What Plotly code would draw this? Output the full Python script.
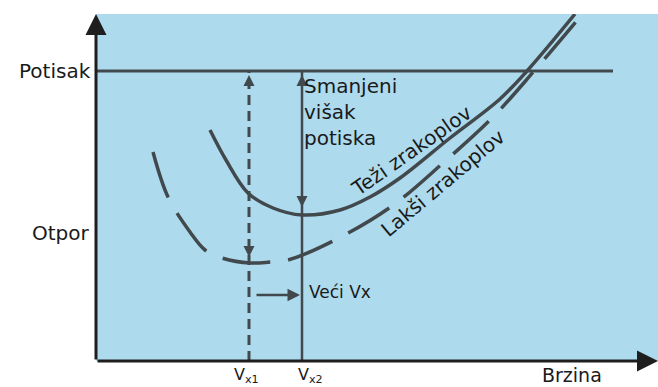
import plotly.graph_objects as go

# ---- data (x = speed units, y = force units) ----
heavy_x = [114, 130, 152, 177, 206, 244, 274, 304, 354, 404, 431, 479]
heavy_y = [231, 201, 168, 153, 146, 151, 164, 183, 223, 262, 290, 347]

light_x = [57, 72, 94, 109, 126, 154, 174, 192, 239, 296, 347, 397, 439, 484]
light_y = [209, 164, 129, 111, 103, 98, 99, 101, 121, 155, 198, 244, 291, 344]

thrust_level = 290
thrust_end_x = 517
vx1 = 153
vx2 = 206
vx1_drag = 104      # down-arrow tip on light curve
vx2_drag = 154      # down-arrow tip on heavy curve
shift_arrow_y = 66
x_max = 562
y_max = 347

label_thrust = "Potisak"
label_drag = "Otpor"
label_speed = "Brzina"
label_excess = "Smanjeni<br>višak<br>potiska"
label_heavy = "Teži zrakoplov"
label_light = "Lakši zrakoplov"
label_shift = "Veći Vx"
label_vx1 = "V<sub>x1</sub>"
label_vx2 = "V<sub>x2</sub>"

LINE = "#41494d"
AX = "#1e1e1e"
BLUE = "#aedaee"
FONT = "DejaVu Sans"

fig = go.Figure()

fig.add_trace(go.Scatter(x=heavy_x, y=heavy_y, mode="lines",
                         line=dict(color=LINE, width=3.5, shape="spline", smoothing=1.0),
                         hoverinfo="skip", showlegend=False))
fig.add_trace(go.Scatter(x=light_x, y=light_y, mode="lines",
                         line=dict(color=LINE, width=3.5, shape="spline", smoothing=1.0,
                                   dash="48px,18px"),
                         hoverinfo="skip", showlegend=False))

# thrust line
fig.add_shape(type="line", x0=0, x1=thrust_end_x, y0=thrust_level, y1=thrust_level,
              line=dict(color=LINE, width=3))
# vertical lines
fig.add_shape(type="line", x0=vx1, x1=vx1, y0=0, y1=thrust_level,
              line=dict(color=LINE, width=3, dash="10px,6px"))
fig.add_shape(type="line", x0=vx2, x1=vx2, y0=0, y1=thrust_level,
              line=dict(color=LINE, width=2.5))

anns = []
def arrow(x, y, ax, ay, width=2, size=1.0, head=2, color=LINE):
    anns.append(dict(x=x, y=y, ax=ax, ay=ay, xref="x", yref="y", axref="x", ayref="y",
                     showarrow=True, arrowhead=head, arrowsize=size, arrowwidth=width,
                     arrowcolor=color, text="", standoff=0, startstandoff=0))

# axes with arrowheads
arrow(x_max, 0, 0, 0, width=3, size=1.4, head=2, color=AX)
arrow(0, y_max, 0, 0, width=3, size=1.4, head=2, color=AX)
# small arrows on verticals
arrow(vx1, thrust_level - 4, vx1, thrust_level - 16, width=2, size=1.1)
arrow(vx1, vx1_drag, vx1, vx1_drag + 14, width=2, size=1.1)
arrow(vx2, thrust_level - 4, vx2, thrust_level - 16, width=2, size=1.1)
arrow(vx2, vx2_drag, vx2, vx2_drag + 14, width=2, size=1.1)
# shift arrow
arrow(vx2 - 2, shift_arrow_y, vx1 + 6, shift_arrow_y, width=2.5, size=1.0)

def text(t, x, y, size=20, xanchor="center", yanchor="middle", angle=0, xshift=0, yshift=0, align="left"):
    anns.append(dict(text=t, x=x, y=y, xref="x", yref="y", showarrow=False,
                     font=dict(family=FONT, size=size, color="#1a1a1a"),
                     xanchor=xanchor, yanchor=yanchor, textangle=angle,
                     xshift=xshift, yshift=yshift, align=align, borderpad=0))

text(label_thrust, 0, thrust_level, xanchor="right", xshift=-4)
text(label_drag, 0, 128, xanchor="right", xshift=-5)
text(label_excess, vx2, thrust_level - 5, xanchor="left", yanchor="top", xshift=1, yshift=3)
text(label_heavy, 315, 210, angle=-35)
text(label_light, 347, 178, angle=-40)
text(label_shift, vx2, shift_arrow_y + 3, size=17, xanchor="left", xshift=6)
text(label_vx1, vx1, 0, size=16, yanchor="top", yshift=-3, xshift=-3)
text(label_vx2, vx2, 0, size=16, yanchor="top", yshift=-3, xshift=8)
text(label_speed, 476, 0, size=19, yanchor="top", yshift=-2)

fig.update_layout(
    width=658, height=387,
    margin=dict(l=96, r=0, t=14, b=26),
    paper_bgcolor="white", plot_bgcolor=BLUE,
    xaxis=dict(range=[0, x_max], showgrid=False, zeroline=False, showticklabels=False,
               ticks="", showline=False, fixedrange=True),
    yaxis=dict(range=[0, y_max], showgrid=False, zeroline=False, showticklabels=False,
               ticks="", showline=False, fixedrange=True),
    annotations=anns,
    showlegend=False,
)

fig.write_html("out.html", config={"displayModeBar": False},
               post_script="document.body.style.margin='0px';")
